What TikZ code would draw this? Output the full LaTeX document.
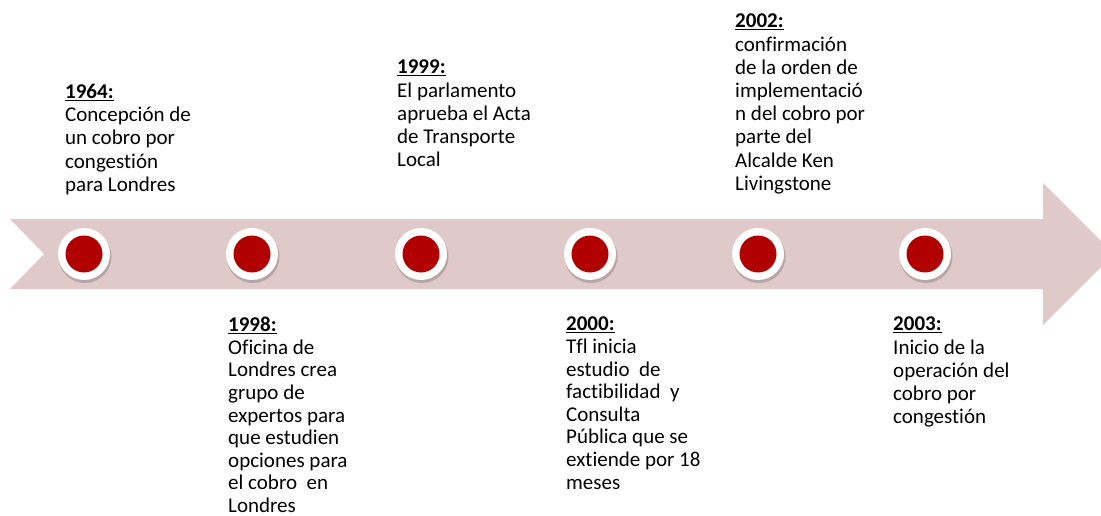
\documentclass[tikz,border=0pt]{standalone}
\usepackage{fontspec}
\setmainfont{Carlito}[Ligatures={NoCommon,NoContextual,NoRare}]
\definecolor{bandpink}{RGB}{224,201,201}
\definecolor{dotred}{RGB}{176,0,0}
\newcommand{\yr}[1]{\underline{\textbf{#1}}}
\begin{document}
\begin{tikzpicture}[x=1pt,y=-1pt,
    ring/.style={circle,fill=white,minimum size=52pt,inner sep=0pt},
    dot/.style={circle,fill=dotred,minimum size=37pt,inner sep=0pt},
    event/.style={anchor=north west,align=left,inner sep=0pt,
        font=\fontsize{21}{23.2}\selectfont},
    longevent/.style={event,font=\fontsize{21}{22.6}\selectfont}]
    \useasboundingbox (0,0) rectangle (1101,516);
    \clip (0,0) rectangle (1101,516);

    % timeline band with notch and head
    \fill[bandpink] (10,219) -- (1043,219) -- (1043,183) -- (1114,254)
        -- (1043,325) -- (1043,289) -- (10,289) -- (44,254) -- cycle;

    \foreach \x/\n in {84/a,252/b,421/c,590/d,758/e,925/f} {
        \fill[black,opacity=0.18] (\x+1,256.5) circle (26.5pt);
        \node[ring] (ring\n) at (\x,254) {};
        \node[dot] (dot\n) at (ring\n) {};
    }

    \node[event] (ev1964) at (65,84) {\yr{1964:}\\Concepción de\\un cobro por\\congestión\\para Londres};
    \node[event] (ev1999) at (397,60) {\yr{1999:}\\El parlamento\\aprueba el Acta\\de Transporte\\Local};
    \node[event] (ev2002) at (735,14) {\yr{2002:}\\confirmación\\de la orden de\\implementació\\n del cobro por\\parte del\\Alcalde Ken\\Livingstone};
    \node[longevent] (ev1998) at (228,317) {\yr{1998:}\\Oficina de\\Londres crea\\grupo de\\expertos para\\que estudien\\opciones para\\el cobro~ en\\Londres};
    \node[longevent] (ev2000) at (566,317) {\yr{2000:}\\Tfl inicia\\estudio~ de\\factibilidad~ y\\Consulta\\Pública que se\\extiende por 18\\meses};
    \node[event] (ev2003) at (893,317) {\yr{2003:}\\Inicio de la\\operación del\\cobro por\\congestión};
\end{tikzpicture}
\end{document}
